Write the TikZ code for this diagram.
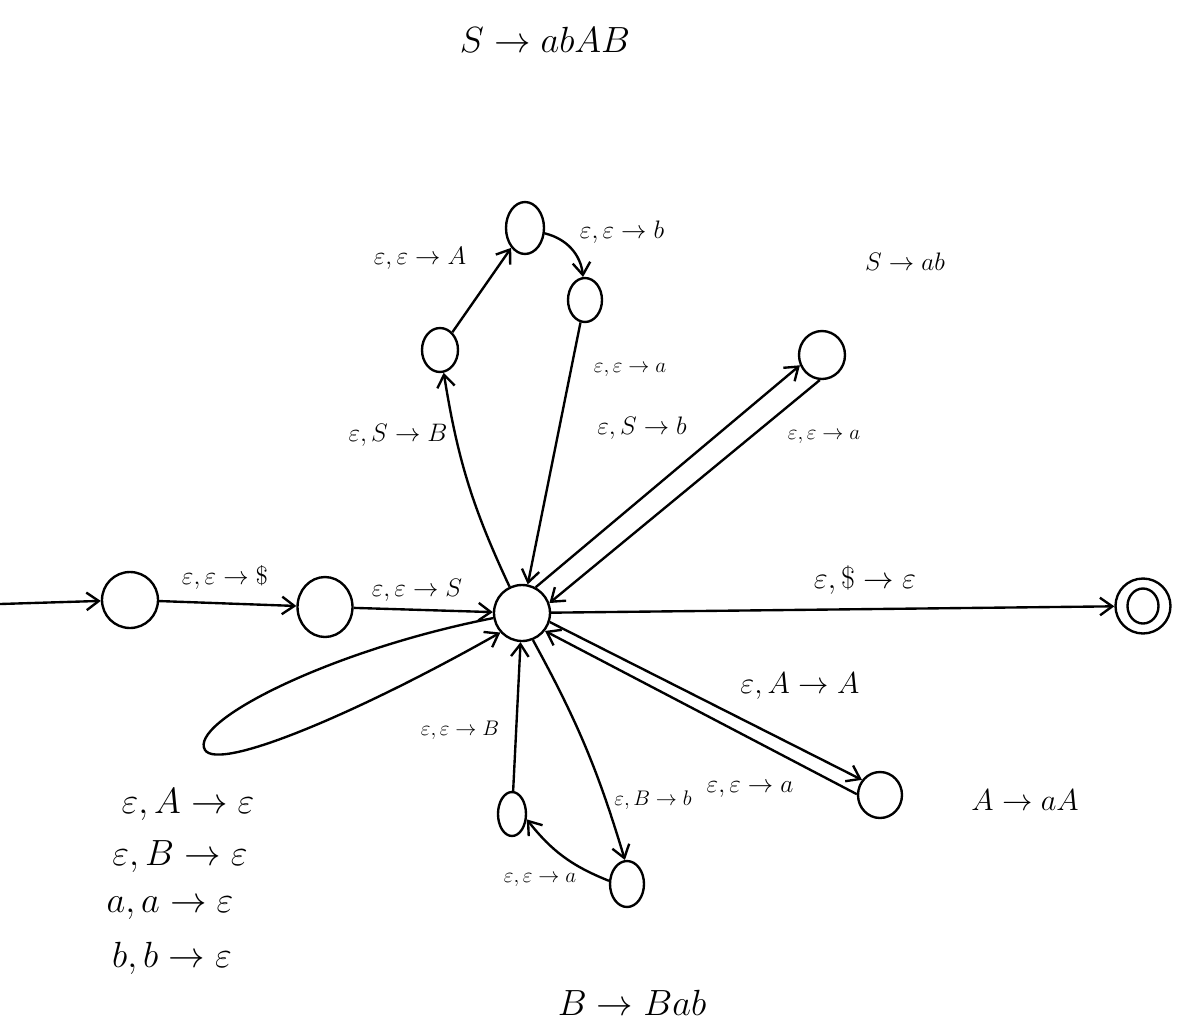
\documentclass[tikz,border=0pt]{standalone}
\usetikzlibrary{arrows.meta,shapes.geometric}
\begin{document}
\begin{tikzpicture}[x=0.02cm,y=0.02cm, line width=1.35pt,
  st/.style={draw, ellipse, inner sep=0pt},
  tr/.style={-{Straight Barb[length=7pt,width=10pt]}},
  lbl/.style={font=\Large, inner sep=1pt},
  lbls/.style={font=\large, inner sep=1pt},
  gram/.style={font=\huge, inner sep=1pt}]
\useasboundingbox (0,0) rectangle (1191,-1032);
% states
\node[st, minimum width=1.12cm, minimum height=1.12cm] (q0) at (130,-600) {};
\node[st, minimum width=1.1cm, minimum height=1.2cm] (q1) at (325,-607) {};
\node[st, minimum width=1.12cm, minimum height=1.12cm] (hub) at (522,-613) {};
\node[st, minimum width=1.1cm, minimum height=1.1cm] (final) at (1143,-606) {};
\node[st, minimum width=0.62cm, minimum height=0.7cm] (finin) at (1143,-606) {};
\node[st, minimum width=0.72cm, minimum height=0.88cm] (s1) at (440,-350) {};
\node[st, minimum width=0.76cm, minimum height=1.04cm] (s2) at (525,-228) {};
\node[st, minimum width=0.68cm, minimum height=0.88cm] (s3) at (585,-300) {};
\node[st, minimum width=0.92cm, minimum height=0.96cm] (sab) at (822,-355) {};
\node[st, minimum width=0.88cm, minimum height=0.92cm] (aA) at (880,-795) {};
\node[st, minimum width=0.56cm, minimum height=0.88cm] (b1) at (512,-814) {};
\node[st, minimum width=0.68cm, minimum height=0.92cm] (b2) at (627,-884) {};
\coordinate (start) at (0,-604);
% connectors
\draw[tr] (start) -- (q0);
\draw[tr] (q0) -- (q1);
\draw[tr] (q1) -- (hub);
\draw[tr] (hub) to[bend left=8] (s1);
\draw[tr] (s1) -- (s2);
\draw[tr] (s2) to[bend left=35] (s3);
\draw[tr] (s3) -- (hub);
\draw[tr] (hub.62) -- (sab.205);
\draw[tr] (sab.265) -- (hub.20);
\draw[tr] (hub) -- (final);
\draw[tr] (hub.-18) -- (aA.140);
\draw[tr] (aA.178) -- (hub.-38);
\draw[tr] (hub.-68) to[bend left=6] (b2.95);
\draw[tr] (b2.170) to[bend left=15] (b1.-20);
\draw[tr] (b1) -- (hub);
\draw[tr] (hub.190) .. controls (330,-650) and (188,-722) .. (205,-750)
  .. controls (219,-772) and (360,-712) .. (hub.222);
% edge labels
\node[lbl] (l01) at (225,-577) {$\varepsilon,\varepsilon\to\$$};
\node[lbl] (l1h) at (417,-590) {$\varepsilon,\varepsilon\to S$};
\node[lbl] (lh1) at (398,-435) {$\varepsilon,S\to B$};
\node[lbl] (l12) at (420,-258) {$\varepsilon,\varepsilon\to A$};
\node[lbl] (l23) at (622,-232) {$\varepsilon,\varepsilon\to b$};
\node[lbls] (l3h) at (630,-370) {$\varepsilon,\varepsilon\to a$};
\node[lbl] (lhs) at (642,-428) {$\varepsilon,S\to b$};
\node[lbls] (lsh) at (824,-437) {$\varepsilon,\varepsilon\to a$};
\node[font=\LARGE, inner sep=1pt] (lhf) at (865,-580) {$\varepsilon,\$\to\varepsilon$};
\node[font=\LARGE, inner sep=1pt] (lha) at (800,-686) {$\varepsilon,A\to A$};
\node[lbl] (lah) at (750,-790) {$\varepsilon,\varepsilon\to a$};
\node[lbls] (lhb) at (653,-800) {$\varepsilon,B\to b$};
\node[lbls] (lbb) at (540,-880) {$\varepsilon,\varepsilon\to a$};
\node[lbls] (lbh) at (460,-730) {$\varepsilon,\varepsilon\to B$};
% loop labels
\node[gram] (lp1) at (188,-805) {$\varepsilon,A\to\varepsilon$};
\node[gram] (lp2) at (180,-857) {$\varepsilon,B\to\varepsilon$};
\node[gram] (lp3) at (170,-908) {$a,a\to\varepsilon$};
\node[gram] (lp4) at (172,-958) {$b,b\to\varepsilon$};
% grammar rules
\node[gram] (g1) at (545,-40) {$S\to abAB$};
\node[font=\Large, inner sep=1pt] (g2) at (905,-262) {$S\to ab$};
\node[font=\LARGE, inner sep=1pt] (g3) at (1025,-800) {$A\to aA$};
\node[gram] (g4) at (632,-1003) {$B\to Bab$};
\end{tikzpicture}
\end{document}
